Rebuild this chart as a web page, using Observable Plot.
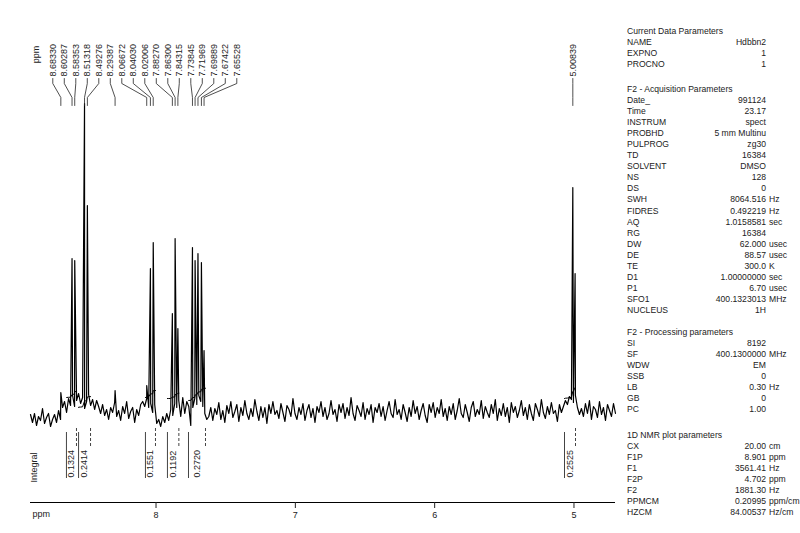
<!DOCTYPE html>
<html><head><meta charset="utf-8">
<script src="https://cdn.jsdelivr.net/npm/d3@7"></script>
<script src="https://cdn.jsdelivr.net/npm/@observablehq/plot@0.6"></script>
<style>
body{margin:0;background:#fff;}
#wrap{position:relative;width:800px;height:533px;overflow:hidden;font-family:"Liberation Sans",sans-serif;}
#chart{position:absolute;left:0;top:0;}
.grp{position:absolute;left:627px;font-size:8.6px;color:#222;}
.row{position:relative;height:11.1px;line-height:11.1px;white-space:nowrap;width:173px;}
.lab{position:absolute;left:0;}
.val{position:absolute;right:34px;}
.unit{position:absolute;left:142px;}
</style></head>
<body><div id="wrap"><div id="chart"></div><div id="panel"></div></div>
<script>
// ---- axis limits (ppm) ----
const F1P = 8.901, F2P = 4.702;
const axisTicks = [8, 7, 6, 5];

// ---- baseline noise, sampled uniformly from F1P to F2P (intensity, px units) ----
const noise = [
 -4,-12,-3,-15,-6,-10,2,-13,-7,-3,-16,-9,-4,-12,0,-9,
 3,9,-2,12,5,15,4,10,17,7,13,2,9,16,5,11,1,10,4,-3,
 6,-5,1,-9,3,-2,8,-6,0,-10,4,-3,9,-8,-1,3,-12,1,-5,6,
 9,4,12,3,7,-2,6,-13,-9,-16,-6,-12,-3,-10,1,-5,7,3,10,-6,13,-3,9,4,-15,3,12,6,15,9,4,-3,-9,
 -6,3,-10,2,-4,8,-9,0,-12,5,-3,9,-7,-1,6,-11,3,-5,10,-3,
 -9,2,-6,11,-1,-10,4,-7,3,-13,6,-3,9,-4,0,-8,7,-2,-11,5,
 1,-6,12,-3,-9,3,-4,7,-10,0,6,-7,2,-12,4,-2,9,-6,3,-9,
 -3,10,-4,1,-11,6,-2,7,-8,3,-5,13,-3,-10,5,0,-6,8,-9,2,
 -4,6,-12,3,-2,7,-6,4,-10,0,9,-3,-7,11,-4,1,-9,6,-2,-11,
 3,-6,10,-3,4,-9,0,7,-5,-12,6,-2,8,-7,3,-3,11,-6,2,-10,
 4,-4,7,-9,0,12,-3,-7,6,-2,-11,3,9,-6,1,-4,10,-8,4,-2,
 -7,6,-3,11,-10,2,-5,7,-6,3,-12,8,-2,4,-7,0,10,-5,3,-9,
 6,-3,-10,7,1,-6,11,-2,-8,4,-4,8,-3,0,-11,6,-2,
 4,10,6,14,11,8,15,3,-4,2,
 -6,7,-3,10,-9,4,1,-7,9,-4,3,-10,6,0,-6,7,-3
];

// ---- peaks ----
const peakPpm    = [8.68330, 8.60287, 8.58353, 8.51318, 8.49276, 8.29387, 8.06672, 8.04030, 8.02006, 7.88270, 7.86300, 7.84315, 7.73845, 7.71969, 7.69889, 7.67422, 7.65528, 5.00839, 4.99200];
const peakHeight = [18, 152, 150, 307, 205, 20, 25, 142, 168, 97, 172, 82, 163, 150, 157, 148, 60, 223, 137];
const peakLabel  = ["8.68330","8.60287","8.58353","8.51318","8.49276","8.29387","8.06672","8.04030","8.02006","7.88270","7.86300","7.84315","7.73845","7.71969","7.69889","7.67422","7.65528","5.00839",""];

// ---- integrals ----
const intLeft  = [8.643, 8.556, 8.076, 7.918, 7.767, 5.068];
const intRight = [8.571, 8.470, 8.004, 7.836, 7.645, 4.989];
const intValue = [0.1324, 0.2414, 0.1551, 0.1192, 0.2720, 0.2525];
const intStart = [13, 3, 13, 12, 10, 12];

// ---- parameter panel ----
const grp1Title = "Current Data Parameters";
const grp1 = [["NAME","Hdbbn2",""],["EXPNO","1",""],["PROCNO","1",""]];
const grp2Title = "F2 - Acquisition Parameters";
const grp2 = [["Date_","991124",""],["Time","23.17",""],["INSTRUM","spect",""],["PROBHD","5 mm Multinu",""],["PULPROG","zg30",""],["TD","16384",""],["SOLVENT","DMSO",""],["NS","128",""],["DS","0",""],["SWH","8064.516","Hz"],["FIDRES","0.492219","Hz"],["AQ","1.0158581","sec"],["RG","16384",""],["DW","62.000","usec"],["DE","88.57","usec"],["TE","300.0","K"],["D1","1.00000000","sec"],["P1","6.70","usec"],["SFO1","400.1323013","MHz"],["NUCLEUS","1H",""]];
const grp3Title = "F2 - Processing parameters";
const grp3 = [["SI","8192",""],["SF","400.1300000","MHz"],["WDW","EM",""],["SSB","0",""],["LB","0.30","Hz"],["GB","0",""],["PC","1.00",""]];
const grp4Title = "1D NMR plot parameters";
const grp4 = [["CX","20.00","cm"],["F1P","8.901","ppm"],["F1","3561.41","Hz"],["F2P","4.702","ppm"],["F2","1881.30","Hz"],["PPMCM","0.20995","ppm/cm"],["HZCM","84.00537","Hz/cm"]];

// ---- layout constants (pixel-equivalent intensity units) ----
const X0 = 30, X1 = 615;
const LABEL_V = 334, LEAD = [332, 327, 313, 305];
const AXIS_V = -92;
const INT_SCALE = 45;

// spectrum
const step = (F1P - F2P) / (noise.length - 1);
const spectrum = noise.map((v, i) => ({ppm: F1P - i * step, v}))
  .concat(peakPpm.map((p, i) => ({ppm: p, v: peakHeight[i]})))
  .sort((a, b) => b.ppm - a.ppm);

// integral curves (cumulative sum of signal inside each region)
const intCurves = [];
intLeft.forEach((lo, k) => {
  const pts = spectrum.filter(d => d.ppm <= lo && d.ppm >= intRight[k]);
  const total = d3.sum(pts, d => Math.max(d.v, 0)) || 1;
  let acc = 0;
  intCurves.push({id: k, ppm: lo, v: intStart[k]});
  pts.forEach(d => { acc += Math.max(d.v, 0); intCurves.push({id: k, ppm: d.ppm, v: intStart[k] + acc / total * intValue[k] * INT_SCALE}); });
  intCurves.push({id: k, ppm: intRight[k], v: intStart[k] + intValue[k] * INT_SCALE});
});
const intervals = intLeft.map((lo, k) => ({lo, hi: intRight[k], mid: (lo + intRight[k]) / 2, text: intValue[k].toFixed(4)}));

// peak-label layout (spread labels apart, like the spectrometer plot)
const xs = d3.scaleLinear().domain([F1P, F2P]).range([X0, X1]);
const GAP = 11.5;
const labeled = peakPpm.map((p, i) => ({ppm: p, text: peakLabel[i]})).filter(d => d.text)
  .sort((a, b) => xs(a.ppm) - xs(b.ppm));
let clusters = labeled.map(d => ({items: [d], center: xs(d.ppm)}));
let changed = true;
while (changed) {
  changed = false;
  for (let i = 0; i < clusters.length - 1; i++) {
    const a = clusters[i], b = clusters[i + 1];
    const aEnd = a.center + (a.items.length - 1) / 2 * GAP;
    const bStart = b.center - (b.items.length - 1) / 2 * GAP;
    if (bStart - aEnd < GAP) {
      const items = a.items.concat(b.items);
      clusters.splice(i, 2, {items, center: d3.mean(items, d => xs(d.ppm))});
      changed = true; break;
    }
  }
}
const labels = [];
clusters.forEach(c => c.items.forEach((d, j) => {
  labels.push({ppm: d.ppm, text: d.text, lppm: xs.invert(c.center + (j - (c.items.length - 1) / 2) * GAP)});
}));
const leaders = [];
labels.forEach((d, k) => {
  leaders.push({id: k, ppm: d.lppm, v: LEAD[0]}, {id: k, ppm: d.lppm, v: LEAD[1]},
               {id: k, ppm: d.ppm, v: LEAD[2]}, {id: k, ppm: d.ppm, v: LEAD[3]});
});

const plot = Plot.plot({
  width: 800, height: 533,
  marginLeft: X0, marginRight: 800 - X1, marginTop: 0, marginBottom: 31,
  style: {fontFamily: "Liberation Sans, sans-serif", fontSize: "9px", background: "#fff", color: "#222"},
  x: {domain: [F1P, F2P]},
  y: {domain: [0, 307], range: [410, 103], axis: null},
  marks: [
    Plot.line(spectrum, {x: "ppm", y: "v", stroke: "#000", strokeWidth: 1.2, curve: "linear"}),
    Plot.line(intCurves, {x: "ppm", y: "v", z: "id", stroke: "#000", strokeWidth: 1}),
    Plot.line(leaders, {x: "ppm", y: "v", z: "id", stroke: "#222", strokeWidth: 0.8}),
    Plot.text(labels, {x: "lppm", y: LABEL_V, text: "text", rotate: -90, textAnchor: "start", fontSize: 9, fill: "#222"}),
    Plot.text(["ppm"], {x: F1P, y: 356, dx: 6, text: d => d, rotate: -90, textAnchor: "middle", fontSize: 9, fill: "#222"}),
    Plot.ruleX(intervals, {x: "lo", y1: -22, y2: -68, stroke: "#444", strokeWidth: 1}),
    Plot.ruleX(intervals, {x: "hi", y1: -18, y2: -37, stroke: "#444", strokeWidth: 1, strokeDasharray: "3,2"}),
    Plot.text(intervals, {x: "mid", y: -67, text: "text", rotate: -90, textAnchor: "start", fontSize: 9, fill: "#222"}),
    Plot.text(["Integral"], {x: F1P, y: -57, dx: 4, text: d => d, rotate: -90, textAnchor: "middle", fontSize: 9, fill: "#222"}),
    Plot.ruleY([AXIS_V], {stroke: "#000", strokeWidth: 1}),
    Plot.axisX({ticks: axisTicks, tickFormat: d => String(d), tickSize: 6, tickPadding: 3, fontSize: 9, label: null}),
    Plot.text(["ppm"], {x: F1P, y: -104, dx: 2, text: d => d, textAnchor: "start", fontSize: 9, fill: "#222"})
  ]
});
document.getElementById("chart").appendChild(plot);

// panel
const panel = document.getElementById("panel");
function group(title, rows, top) {
  const g = document.createElement("div");
  g.className = "grp"; g.style.top = top + "px";
  const h = document.createElement("div"); h.className = "row"; h.textContent = title; g.appendChild(h);
  rows.forEach(r => {
    const row = document.createElement("div"); row.className = "row";
    row.innerHTML = `<span class="lab"></span><span class="val"></span><span class="unit"></span>`;
    row.children[0].textContent = r[0]; row.children[1].textContent = r[1]; row.children[2].textContent = r[2];
    g.appendChild(row);
  });
  panel.appendChild(g);
}
group(grp1Title, grp1, 25.5);
group(grp2Title, grp2, 83.5);
group(grp3Title, grp3, 326.5);
group(grp4Title, grp4, 429.5);
</script></body></html>
